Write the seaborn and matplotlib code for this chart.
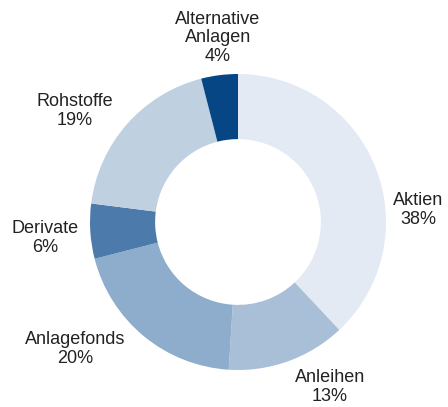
import matplotlib.pyplot as plt
import seaborn as sns

sns.set_style("white")
plt.rcParams['font.family'] = ['Liberation Sans', 'DejaVu Sans']

categories = ["Aktien", "Anleihen", "Anlagefonds", "Derivate", "Rohstoffe", "Alternative\nAnlagen"]
shares = [38, 13, 20, 6, 19, 4]
colors = ["#e4eaf3", "#a9bfd8", "#8eaccb", "#4b7aab", "#bfd0e1", "#064685"]

# label anchor positions in pixels (from top-left)
label_pos = [(418, 210), (330, 387), (75, 349), (45, 238), (75, 111), (218, 38)]

W, H = 448, 407
fig = plt.figure(figsize=(W / 100, H / 100), dpi=100)
ax = fig.add_axes([0, 0, 1, 1])

cx, cy, r = 238, H - 222, 148
ax.pie(shares, colors=colors, startangle=90, counterclock=False,
       center=(cx, cy), radius=r,
       wedgeprops=dict(width=r * 0.44, linewidth=0))

for name, val, (x, y) in zip(categories, shares, label_pos):
    ax.text(x, H - y, f"{name}\n{val}%", ha="center", va="center",
            fontsize=13, color="#222222", linespacing=1.1)

ax.set_xlim(0, W)
ax.set_ylim(0, H)
ax.set_aspect("equal")
ax.axis("off")
fig.savefig("out.png", dpi=100)
